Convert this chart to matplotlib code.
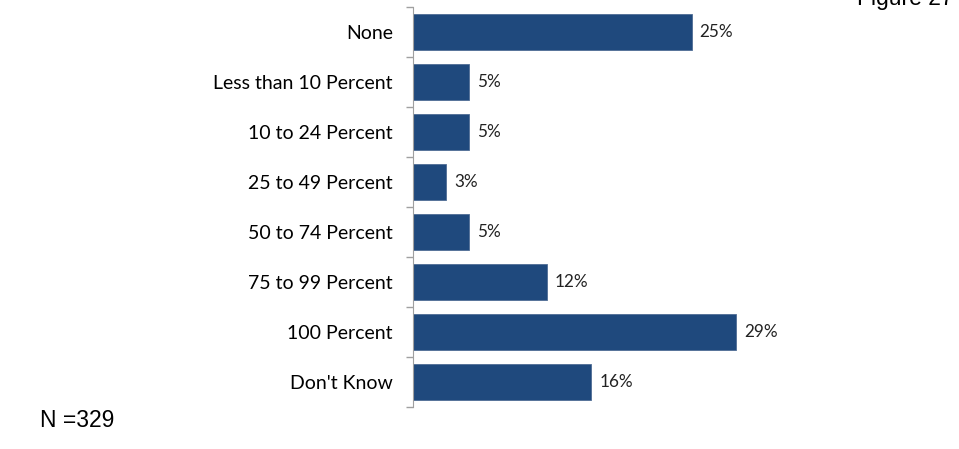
import numpy as np
import matplotlib.pyplot as plt

# survey responses, top to bottom
categories = ["None", "Less than 10 Percent", "10 to 24 Percent", "25 to 49 Percent",
              "50 to 74 Percent", "75 to 99 Percent", "100 Percent", "Don't Know"]
values = [25, 5, 5, 3, 5, 12, 29, 16]
sample_note = "N =329"
figure_tag = "Figure 27"

bar_color = "#1F497D"

fig = plt.figure(figsize=(9.59, 4.49), dpi=100)
ax = fig.add_axes([413 / 959, 1 - 407 / 449, 440 / 959, 400 / 449])

y = np.arange(len(categories))
ax.barh(y, values, height=0.72, color=bar_color, edgecolor="#4F6D95", linewidth=0.6)

ax.set_ylim(len(categories) - 0.5, -0.5)
ax.set_xlim(0, 440 / 11.15)

for yi, v in zip(y, values):
    ax.text(v + 0.7, yi, f"{v}%", va="center", ha="left", fontsize=12.3,
            family="Lato", color="#222222")

# category labels on the left, ticks between them
ax.set_yticks(y)
ax.set_yticklabels(categories, fontsize=14, family="Lato")
ax.tick_params(axis="y", which="major", length=0, pad=14.5)
ax.set_yticks(np.arange(-0.5, len(categories)), minor=True)
ax.tick_params(axis="y", which="minor", length=5, color="#A0A0A0", width=1)
ax.set_xticks([])

for side in ["top", "right", "bottom"]:
    ax.spines[side].set_visible(False)
ax.spines["left"].set_color("#A0A0A0")

fig.text(40 / 959, 1 - 427 / 449, sample_note, fontsize=16.5, family="Liberation Sans",
         va="baseline", ha="left")
fig.text(857 / 959, 1 - 5 / 449, figure_tag, fontsize=16.5, family="Liberation Sans",
         va="baseline", ha="left")

fig.savefig("out.png", dpi=100)
